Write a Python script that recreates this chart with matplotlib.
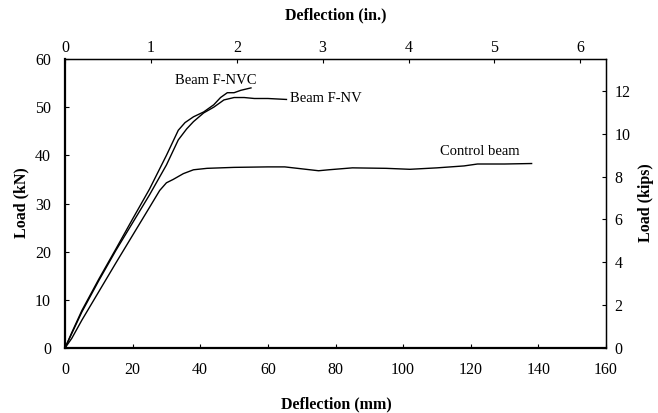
import matplotlib
matplotlib.use("Agg")
import matplotlib.pyplot as plt

plt.rcParams['font.family'] = ['Liberation Serif', 'DejaVu Serif']

# Load-deflection data (deflection in mm, load in kN)
nvc_defl = [0, 2, 5, 10, 15, 20, 25, 30, 33.5, 35.5, 38, 41, 44, 46, 48, 50, 52, 55]
nvc_load = [0, 3.2, 7.8, 14.3, 20.5, 26.8, 33, 40, 45.2, 46.8, 48, 49, 50.5, 52, 53, 53, 53.5, 54]

nv_defl = [0, 2, 5, 10, 15, 20, 25, 30, 33.5, 36, 38, 41, 44, 47, 50, 53, 56, 60, 65.5]
nv_load = [0, 3, 7.5, 14, 20.2, 26, 31.8, 38, 43.2, 45.5, 47, 48.8, 50, 51.5, 52, 52, 51.8, 51.8, 51.6]

ctrl_defl = [0, 2, 5, 10, 15, 20, 25, 28, 30, 32, 35, 38, 42, 50, 60, 65, 70, 75, 78,
             85, 95, 102, 110, 118, 122, 130, 138]
ctrl_load = [0, 2, 5.8, 11.7, 17.6, 23.4, 29.2, 32.7, 34.3, 35, 36.2, 37, 37.3, 37.5, 37.6,
             37.6, 37.2, 36.8, 37, 37.4, 37.3, 37.1, 37.4, 37.8, 38.2, 38.2, 38.3]

x_ticks_mm = [0, 20, 40, 60, 80, 100, 120, 140, 160]
y_ticks_kn = [0, 10, 20, 30, 40, 50, 60]
x_ticks_in = [0, 1, 2, 3, 4, 5, 6]
y_ticks_kips = [0, 2, 4, 6, 8, 10, 12]

MM_PER_IN = 25.4
KN_PER_KIP = 4.448

fig = plt.figure(figsize=(6.58, 4.13), dpi=100)
ax = fig.add_axes([65 / 658, 1 - 348 / 413, (606 - 65) / 658, (348 - 59) / 413])

for xs, ys in [(ctrl_defl, ctrl_load), (nv_defl, nv_load), (nvc_defl, nvc_load)]:
    ax.plot(xs, ys, color='black', lw=1.0)

ax.set_xlim(0, 160)
ax.set_ylim(0, 60)
ax.set_xticks(x_ticks_mm)
ax.set_yticks(y_ticks_kn)
ax.tick_params(direction='in', length=3, width=0.8, labelsize=11.5)
ax.tick_params(axis='x', pad=10)
ax.tick_params(axis='y', pad=10)
for side in ['left', 'bottom']:
    ax.spines[side].set_linewidth(1.6)
for side in ['top', 'right']:
    ax.spines[side].set_linewidth(1.0)

top = ax.secondary_xaxis('top', functions=(lambda v: v / MM_PER_IN, lambda v: v * MM_PER_IN))
top.set_xticks(x_ticks_in)
top.tick_params(direction='in', length=3, width=0.8, labelsize=11.5, pad=2)

right = ax.secondary_yaxis('right', functions=(lambda v: v / KN_PER_KIP, lambda v: v * KN_PER_KIP))
right.set_yticks(y_ticks_kips)
right.tick_params(direction='in', length=3, width=0.8, labelsize=11.5, pad=6)

ax.text(32.5, 55.6, 'Beam F-NVC', fontsize=10.5, va='center', ha='left')
ax.text(66.6, 51.7, 'Beam F-NV', fontsize=10.5, va='center', ha='left')
ax.text(111, 40.8, 'Control beam', fontsize=10.5, va='center', ha='left')

fig.text(336 / 658, 1 - 15 / 413, 'Deflection (in.)', fontsize=11.5, fontweight='bold',
         ha='center', va='center')
fig.text(336 / 658, 1 - 404 / 413, 'Deflection (mm)', fontsize=11.5, fontweight='bold',
         ha='center', va='center')
fig.text(21 / 658, 1 - 203 / 413, 'Load (kN)', fontsize=11.5, fontweight='bold',
         ha='center', va='center', rotation=90)
fig.text(646 / 658, 1 - 203 / 413, 'Load (kips)', fontsize=11.5, fontweight='bold',
         ha='center', va='center', rotation=90)

fig.savefig('out.png', dpi=100)
